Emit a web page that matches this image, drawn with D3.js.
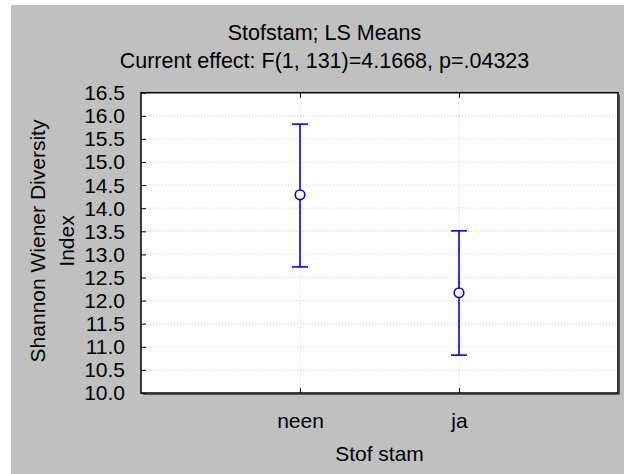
<!DOCTYPE html>
<html>
<head>
<meta charset="utf-8">
<script src="https://cdn.jsdelivr.net/npm/d3@7"></script>
<style>
  html, body { margin: 0; padding: 0; background: #ffffff; }
  svg { display: block; }
  text { font-family: "Liberation Sans", Arial, sans-serif; fill: #000; }
</style>
</head>
<body>
<script>
const categories = ["neen", "ja"];
const means = [14.29, 12.17];
const upper = [15.82, 13.51];
const lower = [12.73, 10.82];
const yTicks = [10.0, 10.5, 11.0, 11.5, 12.0, 12.5, 13.0, 13.5, 14.0, 14.5, 15.0, 15.5, 16.0, 16.5];
const titleLines = ["Stofstam; LS Means", "Current effect: F(1, 131)=4.1668, p=.04323"];
const yLabelLines = ["Shannon Wiener Diversity", "Index"];
const xLabel = "Stof stam";

const W = 624, H = 474;
const plot = { left: 141, top: 92.7, right: 618, bottom: 393 };

const svg = d3.select("body").append("svg").attr("width", W).attr("height", H);

// gray panel
svg.append("rect").attr("x", 11).attr("y", 5).attr("width", W - 11).attr("height", H - 5).attr("fill", "#c0c0c0");

// plot area
svg.append("rect").attr("x", plot.left).attr("y", plot.top)
  .attr("width", plot.right - plot.left).attr("height", plot.bottom - plot.top).attr("fill", "#ffffff");

const x = d3.scaleLinear().domain([0, categories.length + 1]).range([plot.left, plot.right]);
const y = d3.scaleLinear().domain([10, 16.5]).range([plot.bottom, plot.top]);

// gridlines
svg.append("g").selectAll("line").data(yTicks.filter(t => t > 10 && t < 16.5)).join("line")
  .attr("x1", plot.left).attr("x2", plot.right)
  .attr("y1", d => y(d)).attr("y2", d => y(d))
  .attr("stroke", "#cfcfcf").attr("stroke-width", 1).attr("stroke-dasharray", "1,2");
svg.append("g").selectAll("line").data(categories).join("line")
  .attr("x1", (d, i) => x(i + 1)).attr("x2", (d, i) => x(i + 1))
  .attr("y1", plot.top).attr("y2", plot.bottom)
  .attr("stroke", "#cfcfcf").attr("stroke-width", 1).attr("stroke-dasharray", "1,2");

// y axis (inner ticks, labels)
const yAxis = d3.axisLeft(y).tickValues(yTicks).tickFormat(d3.format(".1f")).tickSize(-5).tickPadding(16);
const gy = svg.append("g").attr("transform", `translate(${plot.left},0)`).call(yAxis);
gy.select(".domain").remove();
gy.selectAll(".tick line").attr("stroke", "#000");
gy.selectAll(".tick text").attr("font-size", 21).attr("dy", "0.33em")
  .style("font-family", '"Liberation Sans", Arial, sans-serif');

// x axis bottom
const xAxis = d3.axisBottom(x).tickValues(categories.map((d, i) => i + 1))
  .tickFormat((d) => categories[d - 1]).tickSize(-5).tickPadding(20);
const gx = svg.append("g").attr("transform", `translate(0,${plot.bottom})`).call(xAxis);
gx.select(".domain").remove();
gx.selectAll(".tick line").attr("stroke", "#000");
gx.selectAll(".tick text").attr("font-size", 21).attr("dy", "0.71em")
  .style("font-family", '"Liberation Sans", Arial, sans-serif');

// top ticks
const xTop = d3.axisTop(x).tickValues(categories.map((d, i) => i + 1)).tickFormat("").tickSize(-5);
const gt = svg.append("g").attr("transform", `translate(0,${plot.top})`).call(xTop);
gt.select(".domain").remove();
gt.selectAll(".tick line").attr("stroke", "#000");

// frame with shadow
svg.append("line").attr("x1", plot.right + 1.5).attr("x2", plot.right + 1.5)
  .attr("y1", plot.top + 2).attr("y2", plot.bottom + 1.5).attr("stroke", "#555").attr("stroke-width", 1);
svg.append("line").attr("x1", plot.left + 2).attr("x2", plot.right + 1.5)
  .attr("y1", plot.bottom + 1.5).attr("y2", plot.bottom + 1.5).attr("stroke", "#555").attr("stroke-width", 1);
svg.append("rect").attr("x", plot.left).attr("y", plot.top)
  .attr("width", plot.right - plot.left).attr("height", plot.bottom - plot.top)
  .attr("fill", "none").attr("stroke", "#000").attr("stroke-width", 1.5);

// error bars
const eb = svg.append("g");
const idx = d3.range(categories.length);
eb.selectAll(".v").data(idx).join("line")
  .attr("x1", i => x(i + 1)).attr("x2", i => x(i + 1))
  .attr("y1", i => y(lower[i])).attr("y2", i => y(upper[i]))
  .attr("stroke", "#0000ff").attr("stroke-width", 1.6);
eb.selectAll(".cu").data(idx).join("line")
  .attr("x1", i => x(i + 1) - 8).attr("x2", i => x(i + 1) + 8)
  .attr("y1", i => y(upper[i])).attr("y2", i => y(upper[i]))
  .attr("stroke", "#0000ff").attr("stroke-width", 1.6);
eb.selectAll(".cl").data(idx).join("line")
  .attr("x1", i => x(i + 1) - 8).attr("x2", i => x(i + 1) + 8)
  .attr("y1", i => y(lower[i])).attr("y2", i => y(lower[i]))
  .attr("stroke", "#0000ff").attr("stroke-width", 1.6);
eb.selectAll("circle").data(idx).join("circle")
  .attr("cx", i => x(i + 1)).attr("cy", i => y(means[i])).attr("r", 4.8)
  .attr("fill", "#ffffff").attr("stroke", "#0000ff").attr("stroke-width", 1.6);

// titles
svg.selectAll(".title").data(titleLines).join("text")
  .attr("x", 324.5).attr("y", (d, i) => 40 + i * 28)
  .attr("text-anchor", "middle").attr("font-size", 21.5).text(d => d);

// y label
yLabelLines.forEach((t, i) => {
  svg.append("text")
    .attr("transform", `translate(${44.5 + i * 29.5},${241}) rotate(-90)`)
    .attr("text-anchor", "middle").attr("font-size", 21).text(t);
});

// x label
svg.append("text").attr("x", (plot.left + plot.right) / 2).attr("y", 461)
  .attr("text-anchor", "middle").attr("font-size", 21).text(xLabel);
</script>
</body>
</html>
